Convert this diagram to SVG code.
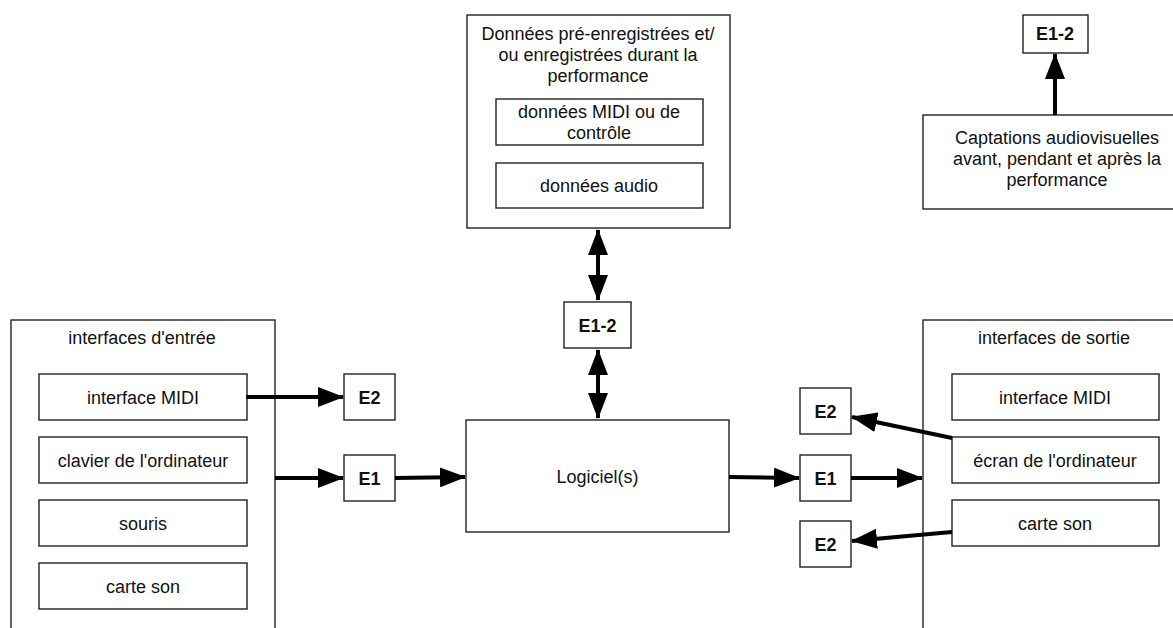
<svg xmlns="http://www.w3.org/2000/svg" width="1173" height="628" viewBox="0 0 1173 628">
<defs>
<style>
rect{fill:#fff;stroke:#222;stroke-width:1.4}
text{font-family:"Liberation Sans",Arial,sans-serif;font-size:18px;fill:#111;text-anchor:middle}
text.b{font-weight:bold}
.c{stroke:#000;stroke-width:4;fill:none}
</style>
<marker id="ah" markerUnits="userSpaceOnUse" markerWidth="26" markerHeight="20" refX="25" refY="10" orient="auto-start-reverse">
<path d="M0,0 L26,10 L0,20 z" fill="#000"/>
</marker>
</defs>
<rect width="1173" height="628" fill="#fff" style="stroke:none"/>

<g id="donnees">
<rect x="467" y="15" width="263" height="213"/>
<text x="598" y="40">Données pré-enregistrées et/</text>
<text x="598" y="61">ou enregistrées durant la</text>
<text x="598" y="82">performance</text>
</g>
<g id="donnees-midi">
<rect x="496" y="99" width="207" height="46"/>
<text x="599" y="118">données MIDI ou de</text>
<text x="599" y="139">contrôle</text>
</g>
<g id="donnees-audio">
<rect x="496" y="163" width="207" height="45"/>
<text x="599" y="192">données audio</text>
</g>

<g id="e12-top">
<rect x="1023" y="15" width="65" height="38"/>
<text class="b" x="1055" y="40">E1-2</text>
</g>
<g id="captations">
<rect x="923" y="115" width="260" height="94"/>
<text x="1057" y="144">Captations audiovisuelles</text>
<text x="1057" y="165">avant, pendant et après la</text>
<text x="1057" y="186">performance</text>
</g>

<g id="e12-mid">
<rect x="564" y="302" width="67" height="46"/>
<text class="b" x="597.5" y="332">E1-2</text>
</g>
<g id="logiciel">
<rect x="466" y="420" width="263" height="112"/>
<text x="597.5" y="483">Logiciel(s)</text>
</g>

<g id="entree">
<rect x="11" y="320" width="264" height="320"/>
<text x="142" y="344">interfaces d'entrée</text>
</g>
<g id="in-midi">
<rect x="39" y="374" width="208" height="46"/>
<text x="143" y="404">interface MIDI</text>
</g>
<g id="in-clavier">
<rect x="39" y="437" width="208" height="46"/>
<text x="143" y="467">clavier de l'ordinateur</text>
</g>
<g id="in-souris">
<rect x="39" y="500" width="208" height="46"/>
<text x="143" y="530">souris</text>
</g>
<g id="in-carte">
<rect x="39" y="563" width="208" height="46"/>
<text x="143" y="593">carte son</text>
</g>

<g id="e2-in">
<rect x="344" y="374" width="51" height="46"/>
<text class="b" x="369.5" y="404">E2</text>
</g>
<g id="e1-in">
<rect x="344" y="455" width="51" height="46"/>
<text class="b" x="369.5" y="485">E1</text>
</g>

<g id="e2-out1">
<rect x="800" y="388" width="51" height="46"/>
<text class="b" x="825.5" y="418">E2</text>
</g>
<g id="e1-out">
<rect x="800" y="455" width="51" height="46"/>
<text class="b" x="825.5" y="485">E1</text>
</g>
<g id="e2-out2">
<rect x="800" y="521" width="51" height="46"/>
<text class="b" x="825.5" y="551">E2</text>
</g>

<g id="sortie">
<rect x="923" y="320" width="264" height="320"/>
<text x="1054" y="344">interfaces de sortie</text>
</g>
<g id="out-midi">
<rect x="952" y="374" width="207" height="46"/>
<text x="1055" y="404">interface MIDI</text>
</g>
<g id="out-ecran">
<rect x="952" y="437" width="207" height="46"/>
<text x="1055" y="467">écran de l'ordinateur</text>
</g>
<g id="out-carte">
<rect x="952" y="500" width="207" height="46"/>
<text x="1055" y="530">carte son</text>
</g>

<g id="connectors">
<line class="c" x1="1055" y1="115" x2="1055" y2="54" marker-end="url(#ah)"/>
<line class="c" x1="598" y1="230" x2="598" y2="300" marker-start="url(#ah)" marker-end="url(#ah)"/>
<line class="c" x1="598" y1="350" x2="598" y2="418" marker-start="url(#ah)" marker-end="url(#ah)"/>
<line class="c" x1="246" y1="397" x2="343" y2="397" marker-end="url(#ah)"/>
<line class="c" x1="275" y1="478" x2="343" y2="478" marker-end="url(#ah)"/>
<line class="c" x1="395" y1="478" x2="465" y2="477" marker-end="url(#ah)"/>
<line class="c" x1="729" y1="477" x2="799" y2="478" marker-end="url(#ah)"/>
<line class="c" x1="851" y1="478" x2="922" y2="478" marker-end="url(#ah)"/>
<line class="c" x1="952" y1="438" x2="852" y2="417" marker-end="url(#ah)"/>
<line class="c" x1="952" y1="532" x2="852" y2="541" marker-end="url(#ah)"/>
</g>
</svg>
